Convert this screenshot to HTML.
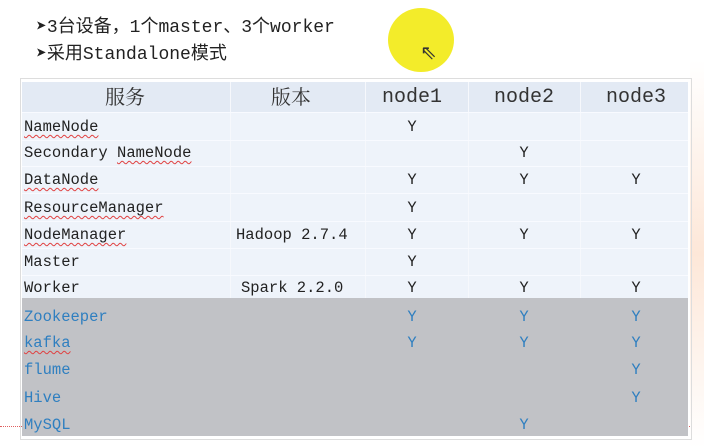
<!DOCTYPE html>
<html><head><meta charset="utf-8"><style>
body{margin:0;width:704px;height:448px;background:#fff;position:relative;overflow:hidden;font-family:"Liberation Mono","Noto Sans CJK SC",monospace;}
.t{position:absolute;white-space:nowrap;line-height:20px;font-size:15.5px;color:#222;transform:translateY(-10px);}
.c{transform:translate(-50%,-10px);}
.b{color:#2f7fc0;}
.u{text-decoration:underline wavy #e04040;text-decoration-thickness:1px;text-underline-offset:3px;}
.h{font-size:20px;color:#333;}
.line{position:absolute;left:22px;width:666px;height:1px;background:#f8faff;}
.v{position:absolute;width:1px;background:#f6f8fc;}
</style></head><body>
<div style="position:absolute;left:0;top:426px;width:704px;border-top:1px dotted #e06060"></div>
<div style="position:absolute;left:690px;top:60px;width:14px;height:388px;background:linear-gradient(#fff,#fde7d8,#fff)"></div>
<div style="position:absolute;left:388px;top:8px;width:66px;height:64px;border-radius:50%;background:#f3ec2a;"></div>
<div class="t" style="left:36px;top:28px;font-size:18px;line-height:24px;transform:translateY(-12px)">➤3台设备，1个master、3个worker</div>
<div class="t" style="left:36px;top:55px;font-size:18px;line-height:24px;transform:translateY(-12px)">➤采用Standalone模式</div>
<div style="position:absolute;left:420px;top:40px;font-size:20px;color:#333;font-family:'DejaVu Sans',sans-serif">⇖</div>
<div style="position:absolute;left:20px;top:78px;width:670px;height:360px;border:1px solid #ddd;"></div>
<div style="position:absolute;left:22px;top:82px;width:666px;height:30px;background:#e3eaf4"></div>
<div style="position:absolute;left:22px;top:112px;width:666px;height:186px;background:#eef3fa"></div>
<div style="position:absolute;left:22px;top:298px;width:666px;height:138px;background:#c1c2c6"></div>
<div class="v" style="left:230px;top:82px;height:216px"></div>
<div class="v" style="left:365px;top:82px;height:216px"></div>
<div class="v" style="left:468px;top:82px;height:216px"></div>
<div class="v" style="left:580px;top:82px;height:216px"></div>
<div class="line" style="top:112px"></div><div class="line" style="top:140px"></div><div class="line" style="top:166px"></div><div class="line" style="top:193px"></div><div class="line" style="top:221px"></div><div class="line" style="top:248px"></div><div class="line" style="top:275px"></div>
<div class="t c h" style="left:125px;top:98px;font-family:'Liberation Serif','Noto Serif CJK SC',serif">服务</div>
<div class="t c h" style="left:291px;top:98px;font-family:'Liberation Serif','Noto Serif CJK SC',serif">版本</div>
<div class="t c h" style="left:412px;top:98px">node1</div>
<div class="t c h" style="left:524px;top:98px">node2</div>
<div class="t c h" style="left:636px;top:98px">node3</div>

<div class="t u" style="left:24px;top:127px">NameNode</div>
<div class="t" style="left:24px;top:153px">Secondary <span class="u">NameNode</span></div>
<div class="t u" style="left:24px;top:180px">DataNode</div>
<div class="t u" style="left:24px;top:208px">ResourceManager</div>
<div class="t u" style="left:24px;top:235px">NodeManager</div>
<div class="t" style="left:24px;top:262px">Master</div>
<div class="t" style="left:24px;top:288px">Worker</div>
<div class="t" style="left:236px;top:235px">Hadoop 2.7.4</div>
<div class="t" style="left:241px;top:288px">Spark 2.2.0</div>
<div class="t b" style="left:24px;top:317px">Zookeeper</div>
<div class="t b u" style="left:24px;top:343px">kafka</div>
<div class="t b" style="left:24px;top:370px">flume</div>
<div class="t b" style="left:24px;top:398px">Hive</div>
<div class="t b" style="left:24px;top:425px">MySQL</div>

<div class="t c" style="left:412px;top:127px">Y</div>
<div class="t c" style="left:524px;top:153px">Y</div>
<div class="t c" style="left:412px;top:180px">Y</div><div class="t c" style="left:524px;top:180px">Y</div><div class="t c" style="left:636px;top:180px">Y</div>
<div class="t c" style="left:412px;top:208px">Y</div>
<div class="t c" style="left:412px;top:235px">Y</div><div class="t c" style="left:524px;top:235px">Y</div><div class="t c" style="left:636px;top:235px">Y</div>
<div class="t c" style="left:412px;top:262px">Y</div>
<div class="t c" style="left:412px;top:288px">Y</div><div class="t c" style="left:524px;top:288px">Y</div><div class="t c" style="left:636px;top:288px">Y</div>
<div class="t c b" style="left:412px;top:317px">Y</div><div class="t c b" style="left:524px;top:317px">Y</div><div class="t c b" style="left:636px;top:317px">Y</div>
<div class="t c b" style="left:412px;top:343px">Y</div><div class="t c b" style="left:524px;top:343px">Y</div><div class="t c b" style="left:636px;top:343px">Y</div>
<div class="t c b" style="left:636px;top:370px">Y</div>
<div class="t c b" style="left:636px;top:398px">Y</div>
<div class="t c b" style="left:524px;top:425px">Y</div>
</body></html>
